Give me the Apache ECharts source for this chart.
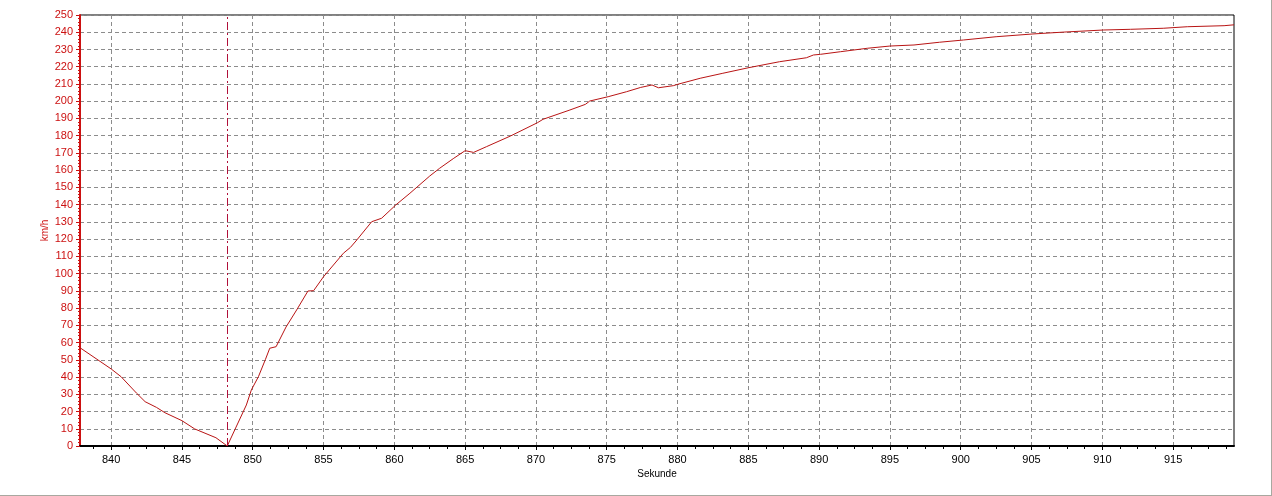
<!DOCTYPE html>
<html>
<head>
<meta charset="utf-8">
<script src="https://cdn.jsdelivr.net/npm/echarts@6/dist/echarts.min.js"></script>
<style>
  html, body { margin: 0; padding: 0; background: #ffffff; }
  #chart { width: 1271px; height: 495px; border-right: 1px solid #a8a8a0; border-bottom: 1px solid #a8a8a0; background: #ffffff; }
</style>
</head>
<body>
<div id="chart"></div>
<script>
// ---- data ----
const times = [837.8, 840.0, 840.7, 841.8, 842.4, 843.2, 843.8, 845.0, 845.9, 847.4, 848.2,
  849.55, 849.9, 850.4, 850.9, 851.2, 851.65, 852.35, 853.1, 853.9, 854.3, 855.0, 856.4, 856.9,
  857.35, 858.4, 859.1, 860.1, 861.1, 862.5, 863.2, 864.2, 865.0, 865.6, 866.5, 868.2, 870.1,
  870.5, 872.4, 873.5, 873.8, 875.1, 876.4, 877.4, 878.2, 878.65, 879.7, 880.1, 881.6, 883.2,
  885.0, 887.2, 889.1, 889.6, 890.1, 891.5, 893.4, 895.0, 896.7, 898.5, 900.2, 902.5, 905.1,
  907.3, 910.1, 912.0, 914.3, 916.0, 918.6, 919.3];
const speeds = [57.0, 44.7, 40.2, 30.6, 25.7, 22.4, 19.3, 14.7, 9.9, 4.8, 0.0,
  23.8, 32.5, 40.2, 50.3, 56.7, 57.6, 69.0, 78.9, 89.9, 90.1, 98.2, 111.8, 115.2,
  119.5, 130.1, 132.1, 139.8, 146.6, 156.6, 161.1, 166.9, 171.3, 170.3, 173.6, 179.8, 187.5,
  189.5, 194.9, 198.2, 200.1, 202.6, 205.5, 208.0, 209.4, 207.8, 209.0, 210.0, 213.3, 216.2,
  219.4, 222.9, 225.2, 226.8, 227.2, 228.7, 230.7, 232.0, 232.6, 234.2, 235.5, 237.4, 239.0,
  240.1, 241.3, 241.7, 242.3, 243.2, 243.8, 244.3];
const xTicks = [840, 845, 850, 855, 860, 865, 870, 875, 880, 885, 890, 895, 900, 905, 910, 915];
const xRange = [837.8, 919.3];
const yRange = [0, 250];
const markerTime = 848.2;
const xName = 'Sekunde';
const yName = 'km/h';

const chart = echarts.init(document.getElementById('chart'), null, { renderer: 'canvas' });
const fontFamily = '"Liberation Sans", Arial, sans-serif';
const gridLine = { show: true, lineStyle: { color: '#8c8c8c', type: [4, 3], width: 1 } };

chart.setOption({
  animation: false,
  backgroundColor: '#ffffff',
  grid: { left: 80, top: 15, right: 37, bottom: 49, show: true, borderColor: '#000000', borderWidth: 1, backgroundColor: 'transparent' },
  xAxis: {
    type: 'value',
    min: xRange[0], max: xRange[1],
    splitNumber: 16,
    name: xName, nameLocation: 'middle', nameGap: 23, nameMoveOverlap: false,
    nameTextStyle: { color: '#000000', fontSize: 10, fontFamily },
    axisLine: { show: true, onZero: false, lineStyle: { color: '#000000', width: 2 } },
    axisTick: { show: true, customValues: xTicks, length: 4, inside: false, lineStyle: { color: '#000000' } },
    minorTick: { show: true, splitNumber: 4, length: 3, lineStyle: { color: '#000000' } },
    axisLabel: { customValues: xTicks, color: '#000000', fontSize: 11, fontFamily, margin: 8 },
    splitLine: gridLine
  },
  yAxis: {
    type: 'value',
    min: yRange[0], max: yRange[1], interval: 10,
    name: yName, nameLocation: 'middle', nameGap: 30, nameRotate: 90, nameMoveOverlap: false,
    nameTextStyle: { color: '#cc1111', fontSize: 10, fontFamily },
    axisLine: { show: true, lineStyle: { color: '#cc1111', width: 2 } },
    axisTick: { show: true, length: 4, lineStyle: { color: '#cc1111' } },
    minorTick: { show: true, splitNumber: 5, length: 2, lineStyle: { color: '#cc1111' } },
    axisLabel: { color: '#cc1111', fontSize: 11, fontFamily, margin: 7 },
    splitLine: gridLine
  },
  series: [{
    type: 'line',
    data: times.map((t, i) => [t, speeds[i]]),
    showSymbol: false,
    symbol: 'none',
    lineStyle: { color: '#b81414', width: 1 },
    markLine: {
      silent: true,
      symbol: ['none', 'none'],
      label: { show: false },
      lineStyle: { color: '#b0103a', type: [8, 3, 2, 3], width: 1, opacity: 1 },
      emphasis: { disabled: true },
      data: [{ xAxis: markerTime }]
    }
  }]
});
</script>
</body>
</html>
